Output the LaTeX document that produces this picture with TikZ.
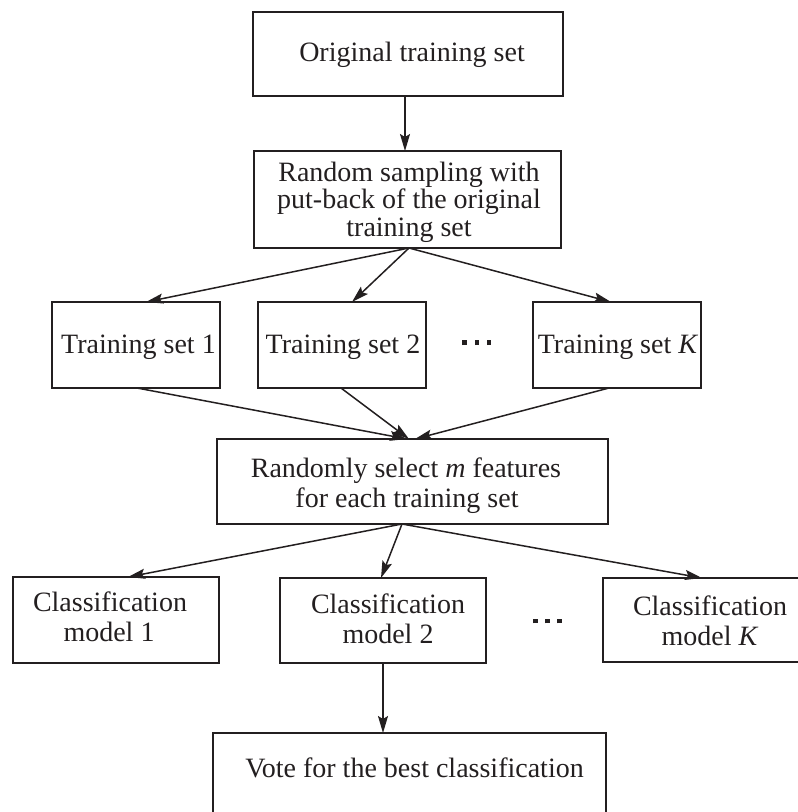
\documentclass[tikz,border=0pt]{standalone}
\usepackage{fontspec}
\setmainfont{Liberation Serif}
\usetikzlibrary{arrows.meta}
\definecolor{ink}{RGB}{35,31,32}
\begin{document}
\begin{tikzpicture}[x=1pt,y=-1pt,
  box/.style={draw=ink, line width=1.5pt, rectangle, inner sep=0pt, outer sep=0pt},
  txt/.style={anchor=base, inner sep=0pt, outer sep=0pt, text=ink, font=\fontsize{28}{29}\selectfont},
  arr/.style={draw=ink, line width=1.5pt, -{Stealth[length=17pt,width=10pt,inset=3pt]}},
  dotrow/.style={anchor=center, inner sep=0pt, text=ink}]
\useasboundingbox (0,0) rectangle (798,812);
\clip (0,0) rectangle (798,812);
% boxes
\node[box, minimum width=310pt, minimum height=84pt] (b1) at (408,54) {};
\node[box, minimum width=307pt, minimum height=97pt] (b2) at (407.5,199.5) {};
\node[box, minimum width=168pt, minimum height=86pt] (s1) at (136,345) {};
\node[box, minimum width=168pt, minimum height=86pt] (s2) at (342,345) {};
\node[box, minimum width=168pt, minimum height=86pt] (sK) at (617,345) {};
\node[box, minimum width=391pt, minimum height=85pt] (m) at (412.5,481.5) {};
\node[box, minimum width=206pt, minimum height=86pt] (c1) at (116,620) {};
\node[box, minimum width=206pt, minimum height=85pt] (c2) at (383,620.5) {};
\node[box, minimum width=214pt, minimum height=84pt] (cK) at (710,620) {};
\node[box, minimum width=393pt, minimum height=97pt] (v) at (409.5,781.5) {};
% texts
\node[txt] (t1) at (412,61) {Original training set};
\node[txt] (t2a) at (409,181) {Random sampling with};
\node[txt] (t2b) at (409,208.5) {put-back of the original};
\node[txt] (t2c) at (409,236) {training set};
\node[txt] (ts1) at (138.5,353) {Training set 1};
\node[txt] (ts2) at (343,353) {Training set 2};
\node[txt] (tsK) at (618,353) {Training set \textit{K}};
\node[dotrow] (d1) at (476.8,342.7) {\rule{4.6pt}{4.6pt}\hspace{7.5pt}\rule{4.6pt}{4.6pt}\hspace{7.5pt}\rule{4.6pt}{4.6pt}};
\node[txt] (tma) at (406,477) {Randomly select \textit{m} features};
\node[txt] (tmb) at (407,507) {for each training set};
\node[txt] (tc1a) at (110,611) {Classification};
\node[txt] (tc1b) at (109,641) {model 1};
\node[txt] (tc2a) at (388,613) {Classification};
\node[txt] (tc2b) at (388,643) {model 2};
\node[txt] (tcKa) at (710,615) {Classification};
\node[txt] (tcKb) at (710,645) {model \textit{K}};
\node[dotrow] (d2) at (547.5,621) {\rule{4.6pt}{4.6pt}\hspace{7.5pt}\rule{4.6pt}{4.6pt}\hspace{7.5pt}\rule{4.6pt}{4.6pt}};
\node[txt] (tv) at (414.5,777) {Vote for the best classification};
% connectors
\draw[arr] ([xshift=-3pt]b1.south) -- ([xshift=-2.5pt]b2.north);
\draw[arr] ([xshift=1.5pt]b2.south) -- ([xshift=10pt]s1.north);
\draw[arr] ([xshift=1.5pt]b2.south) -- ([xshift=10pt]s2.north);
\draw[arr] ([xshift=1.5pt]b2.south) -- ([xshift=-6pt]sK.north);
\draw[arr] ([xshift=1pt]s1.south) -- ([xshift=-5.5pt]m.north);
\draw[arr] ([xshift=-1pt]s2.south) -- ([xshift=-3.5pt]m.north);
\draw[arr] ([xshift=-8pt]sK.south) -- ([xshift=2.5pt]m.north);
\draw[arr] ([xshift=-10.5pt]m.south) -- ([xshift=12pt]c1.north);
\draw[arr] ([xshift=-10.5pt]m.south) -- ([xshift=-2pt]c2.north);
\draw[arr] ([xshift=-10.5pt]m.south) -- ([xshift=-8pt]cK.north);
\draw[arr] (c2.south) -- ([xshift=-26.5pt]v.north);
\end{tikzpicture}
\end{document}
